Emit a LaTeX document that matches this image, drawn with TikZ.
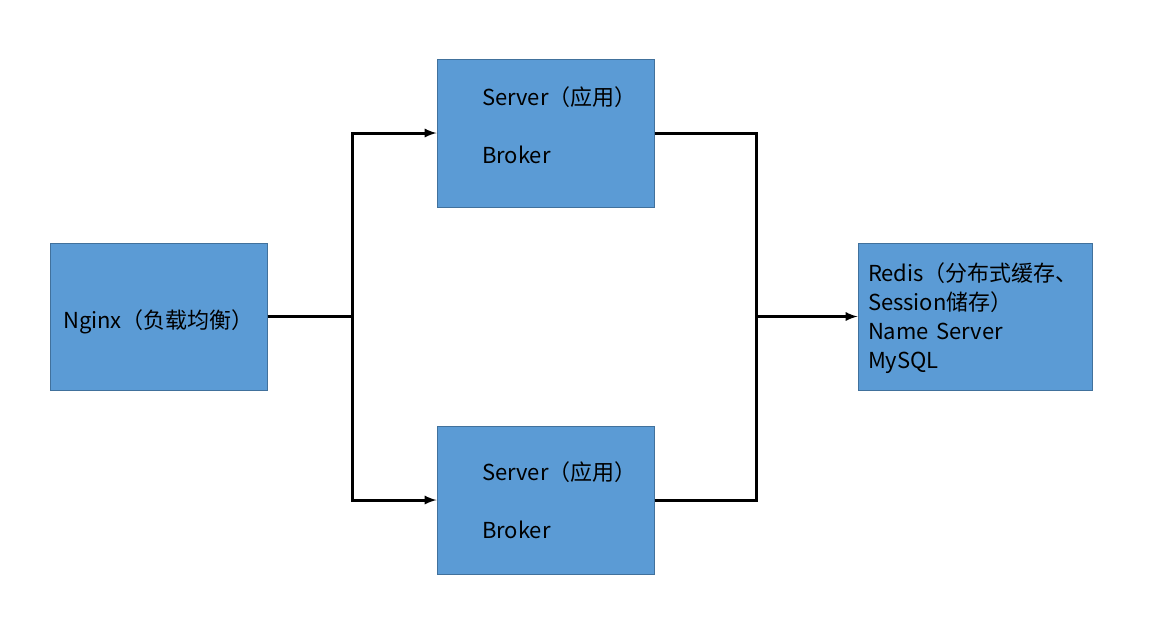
\documentclass[tikz,border=0pt]{standalone}
\usepackage{fontspec}
\setmainfont{Noto Sans CJK SC}
\usetikzlibrary{positioning}
\definecolor{boxfill}{HTML}{5B9BD5}
\definecolor{boxline}{HTML}{41719C}
\newcommand{\nudge}[2]{\raisebox{#1}[\height][\depth]{#2}}
\tikzset{box node/.style={rectangle,draw=boxline,fill=boxfill,line width=1pt,font=\fontsize{22}{29}\selectfont},
server node/.style={box node,minimum width=217,minimum height=148,text width=127,inner xsep=45,align=left},
link/.style={line width=3pt},
}

\begin{document}
\begin{tikzpicture}[x=1pt,y=-1pt,>=latex]
	\useasboundingbox (0,0) rectangle (1158,630);
	\node[box node,minimum width=217,minimum height=147] (nginx) at (158.5,316.5) {\nudge{-5pt}{Nginx（负载均衡）}};
	\node[server node] (s1) at (545.5,133) {\nudge{8pt}{Server（应用）}\\[29pt]\nudge{8pt}{Broker}};
	\node[server node] (s2) at (545.5,500) {Server（应用）\\[29pt]Broker};
	\node[box node,minimum width=234,minimum height=147,text width=214,inner xsep=10,align=left] (redis) at (975,316.5) {\nudge{-2pt}{Redis（分布式缓存、}\\\nudge{-2pt}{Session储存）}\\\nudge{-2pt}{Name Server}\\\nudge{-2pt}{MySQL}};
	\coordinate (split) at (352,316.5);
	\coordinate (join) at (756,316.5);

	\draw[link] (nginx) -- (split);
	\draw[link,->] (split) |- (s1);
	\draw[link,->] (split) |- (s2);
	\draw[link] (s1) -| (join);
	\draw[link] (s2) -| (join);
	\draw[link,->] (join) -- (redis);
\end{tikzpicture}
\end{document}
